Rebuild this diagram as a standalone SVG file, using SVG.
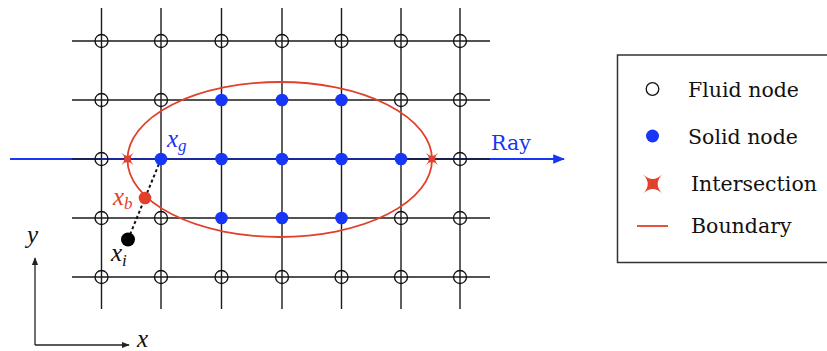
<svg xmlns="http://www.w3.org/2000/svg" width="827" height="351" viewBox="0 0 827 351">
<style>
.grid{stroke:#1a1a1a;stroke-width:1.4;fill:none}
.fluid{fill:none;stroke:#111;stroke-width:1.3}
.solid{fill:#1736f5}
.red{fill:#e3402b}
.lbl{font-family:"DejaVu Serif","Liberation Serif",serif;font-size:20.5px;fill:#111}
.math{font-family:"Liberation Serif","DejaVu Serif",serif;font-style:italic;font-size:25px}
.sub{font-size:17px}
</style>
<defs>
<path id="star" d="M-10,-10 Q0,0 10,-10 Q0,0 10,10 Q0,0 -10,10 Q0,0 -10,-10 Z"/>
<marker id="arrBlue" viewBox="0 0 10 10" refX="9" refY="5" markerWidth="6" markerHeight="6" markerUnits="strokeWidth" orient="auto">
<path d="M0,1 L10,5 L0,9 Z" fill="#1736f5"/>
</marker>
<marker id="arrBlack" viewBox="0 0 10 10" refX="9" refY="5" markerWidth="6" markerHeight="6" markerUnits="strokeWidth" orient="auto">
<path d="M0,1 L10,5 L0,9 Z" fill="#222"/>
</marker>
</defs>

<g id="connectors">
<line x1="10" y1="159" x2="564" y2="159" stroke="#1736f5" stroke-width="2" marker-end="url(#arrBlue)"/>
<g class="grid">
<line x1="101.5" y1="8" x2="101.5" y2="309"/>
<line x1="161" y1="8" x2="161" y2="309"/>
<line x1="221.5" y1="8" x2="221.5" y2="309"/>
<line x1="282" y1="8" x2="282" y2="309"/>
<line x1="341.5" y1="8" x2="341.5" y2="309"/>
<line x1="401" y1="8" x2="401" y2="309"/>
<line x1="460" y1="8" x2="460" y2="309"/>
<line x1="72" y1="41" x2="490" y2="41"/>
<line x1="72" y1="100" x2="490" y2="100"/>
<line x1="72" y1="159" x2="101.5" y2="159"/>
<line x1="401" y1="159" x2="490" y2="159"/>
<line x1="72" y1="218" x2="490" y2="218"/>
<line x1="72" y1="277" x2="490" y2="277"/>
</g>
<line x1="101.5" y1="159" x2="401" y2="159" stroke="#1a2a9a" stroke-width="1.8"/>
<ellipse id="boundary" cx="279.75" cy="159.5" rx="152.3" ry="77.5" fill="none" stroke="#e3402b" stroke-width="1.8"/>
<line x1="128" y1="239.5" x2="161" y2="159" stroke="#111" stroke-width="2" stroke-dasharray="3,2.6"/>
<line x1="35" y1="345" x2="35" y2="258" stroke="#222" stroke-width="1.3" marker-end="url(#arrBlack)"/>
<line x1="35" y1="345" x2="129" y2="345" stroke="#222" stroke-width="1.3" marker-end="url(#arrBlack)"/>
</g>

<g id="fluid-nodes" class="fluid">
<circle cx="101.5" cy="41" r="6.5"/><circle cx="161" cy="41" r="6.5"/><circle cx="221.5" cy="41" r="6.5"/><circle cx="282" cy="41" r="6.5"/><circle cx="341.5" cy="41" r="6.5"/><circle cx="401" cy="41" r="6.5"/><circle cx="460" cy="41" r="6.5"/>
<circle cx="101.5" cy="100" r="6.5"/><circle cx="161" cy="100" r="6.5"/><circle cx="401" cy="100" r="6.5"/><circle cx="460" cy="100" r="6.5"/>
<circle cx="101.5" cy="159" r="6.5"/><circle cx="460" cy="159" r="6.5"/>
<circle cx="101.5" cy="218" r="6.5"/><circle cx="161" cy="218" r="6.5"/><circle cx="401" cy="218" r="6.5"/><circle cx="460" cy="218" r="6.5"/>
<circle cx="101.5" cy="277" r="6.5"/><circle cx="161" cy="277" r="6.5"/><circle cx="221.5" cy="277" r="6.5"/><circle cx="282" cy="277" r="6.5"/><circle cx="341.5" cy="277" r="6.5"/><circle cx="401" cy="277" r="6.5"/><circle cx="460" cy="277" r="6.5"/>
</g>

<g id="solid-nodes" class="solid">
<circle cx="221.5" cy="100" r="6.3"/><circle cx="282" cy="100" r="6.3"/><circle cx="341.5" cy="100" r="6.3"/>
<circle cx="161" cy="159" r="6.3"/><circle cx="221.5" cy="159" r="6.3"/><circle cx="282" cy="159" r="6.3"/><circle cx="341.5" cy="159" r="6.3"/><circle cx="401" cy="159" r="6.3"/>
<circle cx="221.5" cy="218" r="6.3"/><circle cx="282" cy="218" r="6.3"/><circle cx="341.5" cy="218" r="6.3"/>
</g>

<g id="intersections" class="red">
<use href="#star" transform="translate(127.5,159) scale(0.62)"/>
<use href="#star" transform="translate(432,159) scale(0.62)"/>
</g>

<g id="node-xb">
<circle cx="145" cy="198" r="6.3" fill="#e3402b"/>
<text class="math" x="113" y="205" fill="#e3402b">x<tspan class="sub" dy="4">b</tspan></text>
</g>
<g id="node-xi">
<circle cx="128" cy="239.5" r="7" fill="#000"/>
<text class="math" x="111" y="261" fill="#111">x<tspan class="sub" dy="5">i</tspan></text>
</g>
<g id="node-xg">
<text class="math" x="167" y="147" fill="#1736f5">x<tspan class="sub" dy="4">g</tspan></text>
</g>
<g id="ray-label">
<text class="lbl" x="491" y="150" style="fill:#1736f5">Ray</text>
</g>
<g id="axis-labels">
<text class="math" x="27" y="243" fill="#111">y</text>
<text class="math" x="137" y="347" fill="#111">x</text>
</g>

<g id="legend">
<rect x="617.5" y="55" width="230" height="207.5" fill="#fff" stroke="#333" stroke-width="1.5"/>
<circle cx="652.5" cy="89" r="6.3" fill="none" stroke="#111" stroke-width="1.3"/>
<circle cx="652.5" cy="136" r="6.5" fill="#1736f5"/>
<use href="#star" transform="translate(652.7,184)" fill="#e3402b"/>
<line x1="637" y1="226" x2="668" y2="226" stroke="#e3402b" stroke-width="1.8"/>
<text class="lbl" x="688" y="97">Fluid node</text>
<text class="lbl" x="688" y="144">Solid node</text>
<text class="lbl" x="691" y="191">Intersection</text>
<text class="lbl" x="691" y="233">Boundary</text>
</g>
</svg>
